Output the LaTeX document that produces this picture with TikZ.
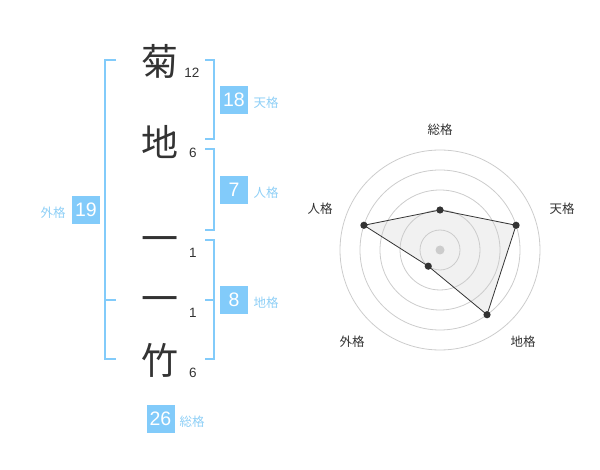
\documentclass[tikz,border=0pt]{standalone}
\usepackage{fontspec}
\setmainfont{Liberation Sans}
\newfontfamily\cjk{Noto Sans CJK JP}
\definecolor{boxblue}{HTML}{82CBFA}
\definecolor{brblue}{HTML}{82CBFA}
\definecolor{lblblue}{HTML}{8ECFF6}
\definecolor{ink}{HTML}{333333}
\definecolor{ringgray}{HTML}{CCCCCC}
\definecolor{polyfill}{HTML}{F1F1F1}
\tikzset{
  kanji/.style={inner sep=0pt, text=ink, font=\cjk\fontsize{37}{37}\selectfont, text height=32.6pt, text depth=4.4pt},
  strokes/.style={inner sep=0pt, text=ink, font=\fontsize{13.5}{13.5}\selectfont},
  numbox/.style={fill=boxblue, text=white, minimum size=28pt, inner sep=0pt, font=\fontsize{19.5}{19.5}\selectfont},
  kaku/.style={inner sep=0pt, text=lblblue, font=\cjk\fontsize{12.5}{12.5}\selectfont},
  bracket/.style={draw=brblue, line width=2pt},
  ring/.style={draw=ringgray, line width=0.8pt},
  radlbl/.style={inner sep=0pt, text=ink, font=\cjk\fontsize{12.5}{12.5}\selectfont},
  dot/.style={fill=ink}
}
\begin{document}
\begin{tikzpicture}[x=1pt,y=-1pt]
\useasboundingbox (0,0) rectangle (600,470);
% characters
\node[kanji] (c1) at (160,61) {菊};
\node[kanji] (c2) at (160,142) {地};
\node[kanji] (c3) at (160,238) {一};
\node[kanji] (c4) at (160,298) {一};
\node[kanji] (c5) at (160,360) {竹};
% stroke counts
\node[strokes] (s1) at (192,73) {12};
\node[strokes] (s2) at (193,153) {6};
\node[strokes] (s3) at (193,253) {1};
\node[strokes] (s4) at (193,313) {1};
\node[strokes] (s5) at (193,373) {6};
% brackets
\draw[bracket] (116,60) -- (105,60) -- (105,359) -- (116,359);
\draw[bracket] (105,300) -- (116,300);
\draw[bracket] (205,60) -- (214,60) -- (214,139) -- (205,139);
\draw[bracket] (205,149) -- (214,149) -- (214,230) -- (205,230);
\draw[bracket] (205,240) -- (214,240) -- (214,359) -- (205,359);
\draw[bracket] (205,300) -- (214,300);
% number boxes
\node[numbox] (ten) at (234,100) {18};
\node[numbox] (jin) at (234,190) {7};
\node[numbox] (chi) at (234,300) {8};
\node[numbox] (gai) at (86,210) {19};
\node[numbox] (sou) at (160.5,419) {26};
\node[kaku] (lten) at (266,103) {天格};
\node[kaku] (ljin) at (266,193) {人格};
\node[kaku] (lchi) at (266,303) {地格};
\node[kaku] (lgai) at (53,213) {外格};
\node[kaku] (lsou) at (192,422) {総格};
% radar
\begin{scope}[shift={(440,250)}, y=1pt]
  \coordinate (pS) at (90:40);
  \coordinate (pT) at (18:80);
  \coordinate (pC) at (-54:80);
  \coordinate (pG) at (-126:20);
  \coordinate (pJ) at (162:80);
  \fill[polyfill] (pS) -- (pT) -- (pC) -- (pG) -- (pJ) -- cycle;
  \foreach \r in {20,40,60,80,100} \draw[ring] (0,0) circle (\r);
  \fill[ringgray] (0,0) circle (4.5);
  \draw[ink, line width=0.8pt, line join=round] (pS) -- (pT) -- (pC) -- (pG) -- (pJ) -- cycle;
  \foreach \p in {pS,pT,pC,pG,pJ} \fill[dot] (\p) circle (3.6);
\end{scope}
\node[radlbl] (rS) at (440,130) {総格};
\node[radlbl] (rT) at (562,209) {天格};
\node[radlbl] (rJ) at (320,209) {人格};
\node[radlbl] (rG) at (352,342) {外格};
\node[radlbl] (rC) at (523,342) {地格};
\end{tikzpicture}
\end{document}
